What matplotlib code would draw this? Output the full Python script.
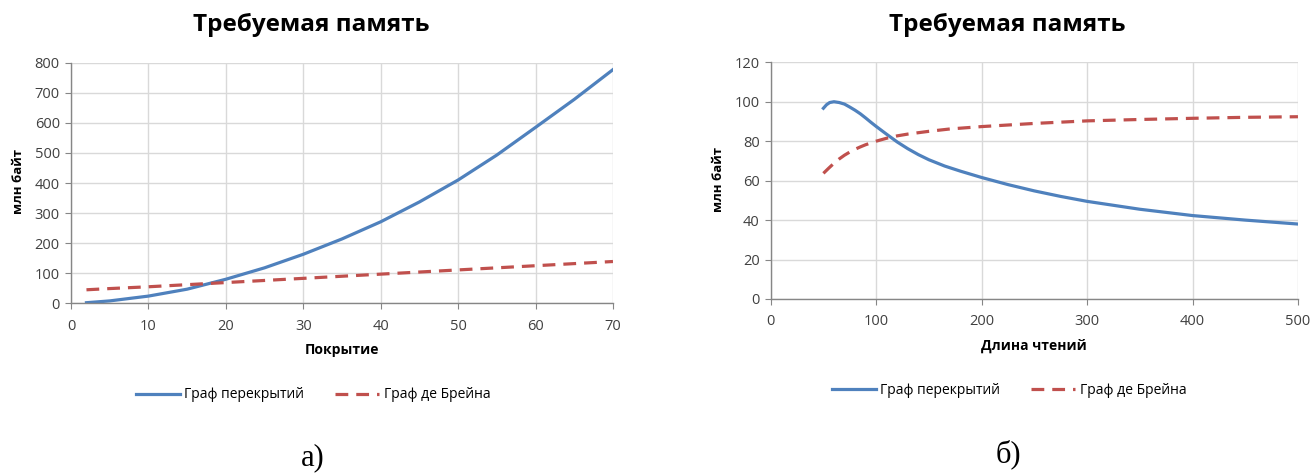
import numpy as np
import matplotlib.pyplot as plt

# (a) memory vs coverage
coverage = [2, 5, 10, 15, 20, 25, 30, 35, 40, 45, 50, 55, 60, 65, 70]
overlap_a = [2, 8, 24, 47, 80, 118, 163, 214, 271, 337, 410, 493, 585, 678, 777]
debruijn_a = [45, 49, 55, 62, 69, 76, 83, 90, 97, 104, 111, 118, 125, 132, 139]

# (b) memory vs read length
read_len_o = [50, 53, 56, 60, 65, 70, 75, 80, 85, 90, 95, 100, 110, 120, 130, 140, 150,
              165, 180, 200, 225, 250, 275, 300, 350, 400, 450, 500]
overlap_b = [96.7, 98.5, 99.6, 100, 99.6, 98.8, 97.3, 95.7, 93.9, 91.8, 89.6, 87.5, 83.5,
             79.6, 76.2, 73.2, 70.6, 67.4, 64.8, 61.6, 58, 54.8, 52, 49.5, 45.5, 42.3, 40, 38]
read_len_d = [50, 55, 60, 65, 70, 75, 80, 85, 90, 100, 110, 120, 130, 150, 170, 200,
              250, 300, 350, 400, 450, 500]
debruijn_b = [63.7, 66.3, 68.8, 71, 72.9, 74.5, 75.9, 77.1, 78.2, 80, 81.5, 82.7, 83.6,
              85, 86.2, 87.4, 89, 90.3, 91, 91.6, 92.1, 92.4]

title = 'Требуемая память'
ylabel = 'млн байт'
labels = ['Граф перекрытий', 'Граф де Брейна']

blue = '#4F81BD'
red = '#C0504D'
plt.rcParams['font.family'] = ['Open Sans', 'DejaVu Sans']

fig = plt.figure(figsize=(13.12, 4.74), dpi=100)
ax1 = fig.add_axes([0.0541, 0.3601, 0.4131, 0.5076])
ax2 = fig.add_axes([0.5874, 0.3692, 0.4019, 0.4994])


def style(ax, xlim, xticks, ylim, yticks):
    ax.set_xlim(xlim)
    ax.set_ylim(ylim)
    ax.set_xticks(xticks)
    ax.set_yticks(yticks)
    ax.grid(True, color='#d9d9d9', linewidth=1.0)
    ax.set_axisbelow(True)
    for s in ['top', 'right']:
        ax.spines[s].set_visible(False)
    for s in ['left', 'bottom']:
        ax.spines[s].set_color('#868686')
        ax.spines[s].set_linewidth(1.0)
    ax.tick_params(axis='both', direction='out', length=4, color='#868686',
                   labelsize=10.5, labelcolor='#404040', pad=4)
    ax.tick_params(axis='x', pad=7)


ax1.plot(coverage, overlap_a, color=blue, lw=2.3, label=labels[0])
ax1.plot(coverage, debruijn_a, color=red, lw=2.3, dashes=(4, 2.5), label=labels[1])
style(ax1, (0, 70), np.arange(0, 71, 10), (0, 800), np.arange(0, 801, 100))
ax1.set_xlabel('Покрытие', fontsize=10, fontweight='bold', labelpad=7)

ax2.plot(read_len_o, overlap_b, color=blue, lw=2.3, label=labels[0])
ax2.plot(read_len_d, debruijn_b, color=red, lw=2.3, dashes=(4, 2.5), label=labels[1])
style(ax2, (0, 500), np.arange(0, 501, 100), (0, 120), np.arange(0, 121, 20))
ax2.set_xlabel('Длина чтений', fontsize=10, fontweight='bold', labelpad=7)

fig.text(18 / 1312, 1 - 181 / 474, ylabel, rotation=90, ha='center', va='center',
         fontsize=9.5, fontweight='bold')
fig.text(718 / 1312, 1 - 180 / 474, ylabel, rotation=90, ha='center', va='center',
         fontsize=9.5, fontweight='bold')

fig.text(311 / 1312, 1 - 25 / 474, title, ha='center', va='center',
         fontsize=17.5, fontweight='bold')
fig.text(1007 / 1312, 1 - 25 / 474, title, ha='center', va='center',
         fontsize=17.5, fontweight='bold')

for ax, cx, cy in [(ax1, 313, 395), (ax2, 1009, 390)]:
    h, l = ax.get_legend_handles_labels()
    fig.legend(h, l, loc='center', bbox_to_anchor=(cx / 1312, 1 - cy / 474),
               ncol=2, frameon=False, fontsize=10, handlelength=3.2,
               handletextpad=0.3, columnspacing=2.2)

fig.text(313 / 1312, 1 - 458 / 474, 'а)', ha='center', va='center',
         fontsize=22, family='Liberation Serif')
fig.text(1008 / 1312, 1 - 454 / 474, 'б)', ha='center', va='center',
         fontsize=22, family='Liberation Serif')

fig.savefig('out.png', dpi=100)
